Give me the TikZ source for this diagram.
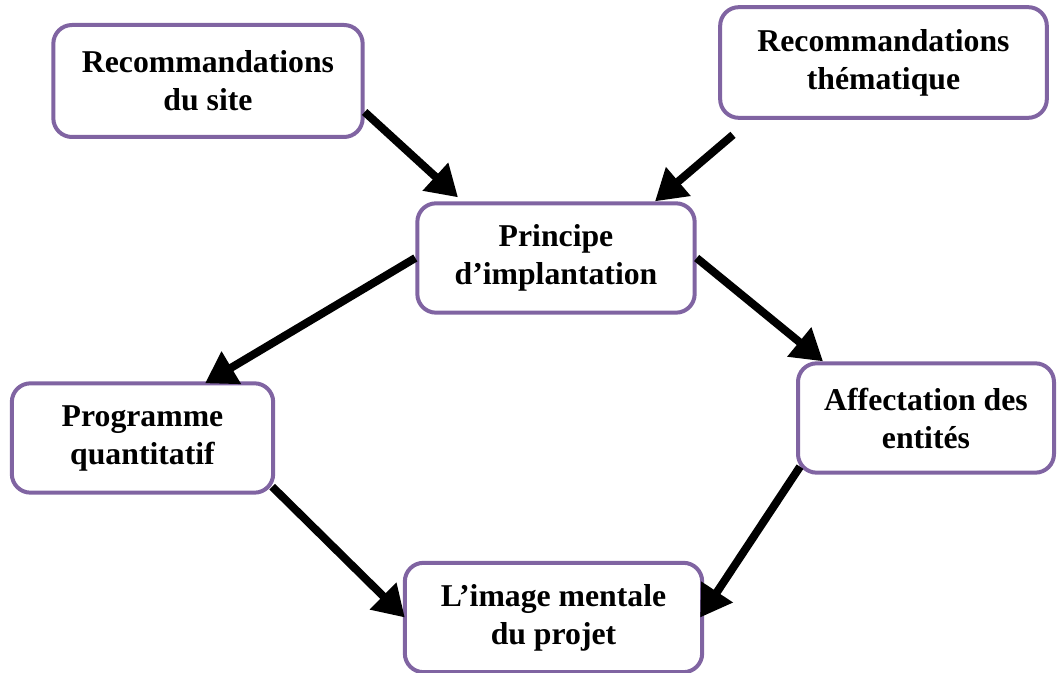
\documentclass[tikz,border=0pt]{standalone}
\usepackage{fontspec}
\setmainfont{Liberation Serif}
\usetikzlibrary{calc,arrows.meta}
\definecolor{boxpurple}{RGB}{128,100,162}
\tikzset{
  boxnode/.style={draw=boxpurple, line width=3pt, rounded corners=14pt, fill=white,
    align=center, inner sep=0pt,
    font=\fontsize{23.8pt}{28.5pt}\selectfont\bfseries},
  arr/.style={draw=black, line width=6pt, -{Triangle[length=23pt,width=27pt]}}
}
\begin{document}
\begin{tikzpicture}[x=0.75pt,y=-0.75pt]
\useasboundingbox (0,0) rectangle (1058,673);
\node[boxnode, minimum width=232pt, minimum height=84pt] (b1) at (208,81) {Recommandations\\du site};
\node[boxnode, minimum width=245pt, minimum height=83pt] (b2) at (883.5,62.5) {Recommandations\\thématique};
\node[boxnode, minimum width=208pt, minimum height=82pt] (b3) at (556,258) {Principe\\d’implantation};
\node[boxnode, minimum width=196pt, minimum height=82pt] (b4) at (142.5,438) {Programme\\quantitatif};
\node[boxnode, minimum width=192pt, minimum height=82pt] (b5) at (926,418) {Affectation des\\entités};
\node[boxnode, minimum width=223pt, minimum height=82pt] (b6) at (553.5,617.5) {L’image mentale\\du projet};

\coordinate (s1) at ($(b1.east)+(0,31)$);
\coordinate (t1) at ($(b3.north)+(-98,-4)$);
\coordinate (s2) at ($(b2.south)+(-150.5,15)$);
\coordinate (t2) at ($(b3.north)+(99,0)$);
\coordinate (s3) at (b3.west);
\coordinate (t3) at ($(b4.north)+(62.5,2)$);
\coordinate (s4) at (b3.east);
\coordinate (t4) at ($(b5.north)+(-103,0)$);
\coordinate (s5) at ($(b4.south east)+(-3,-8)$);
\coordinate (t5) at ($(b6.west)+(2,0)$);
\coordinate (s6) at ($(b5.south west)+(4,-8)$);
\coordinate (t6) at ($(b6.east)+(-4,0)$);

\draw[arr] (s1) -- (t1);
\draw[arr] (s2) -- (t2);
\draw[arr] (s3) -- (t3);
\draw[arr] (s4) -- (t4);
\draw[arr] (s5) -- (t5);
\draw[arr] (s6) -- (t6);
\end{tikzpicture}
\end{document}
